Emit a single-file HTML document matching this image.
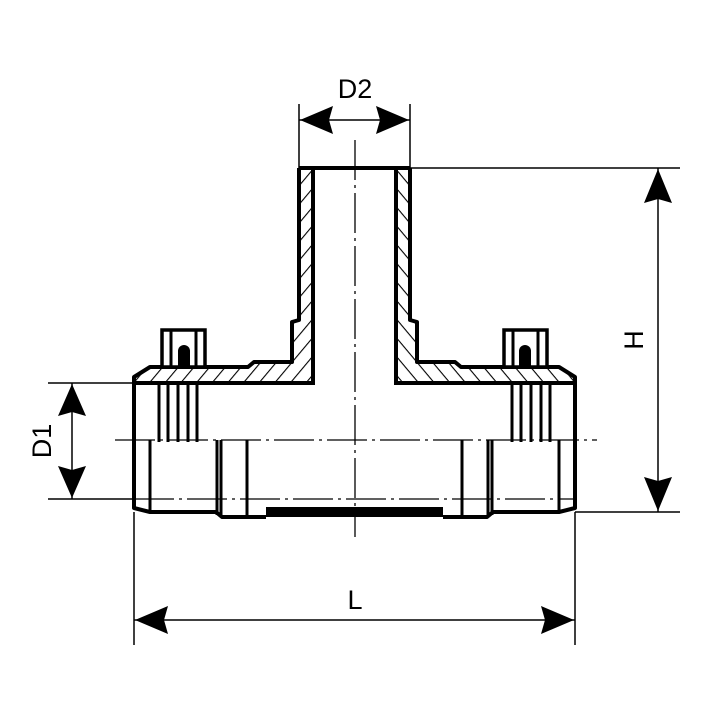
<!DOCTYPE html>
<html><head><meta charset="utf-8"><style>
html,body{margin:0;padding:0;background:#fff;}
svg{display:block}
text{font-family:"Liberation Sans",sans-serif;fill:#000}
</style></head><body>
<svg width="720" height="717" viewBox="0 0 720 717" xmlns="http://www.w3.org/2000/svg">
<defs>
<pattern id="h" patternUnits="userSpaceOnUse" width="12" height="12" patternTransform="rotate(40)">
<line x1="0" y1="0" x2="0" y2="12" stroke="#000" stroke-width="2.2"/>
</pattern>
<g id="half">
<path d="M299,168 L313,168 L313,383 L134,383 L134,377 L150,367 L248,367 L254,362 L292,362 L292,320 L299,320 Z" fill="url(#h)"/>
<path d="M299,168 L313,168 L313,383 L134,383" fill="none" stroke="#000" stroke-width="4"/>
<path d="M299,168 L299,320 L292,322 L292,362 L254,362 L248,367 L150,367 L134,377 L134,508 L150,512 L216,512 L222,517 L266,517" fill="none" stroke="#000" stroke-width="4" stroke-linejoin="round"/>
<rect x="162" y="330" width="43" height="37" fill="#fff" stroke="#000" stroke-width="3.5"/>
<line x1="171" y1="330" x2="171" y2="367" stroke="#000" stroke-width="3"/>
<line x1="196" y1="330" x2="196" y2="367" stroke="#000" stroke-width="3"/>
<path d="M178,367 L178,351 A6,6 0 0 1 190,351 L190,367 Z" fill="#000"/>
<g stroke="#000" stroke-width="3">
<line x1="159" y1="383" x2="159" y2="442"/>
<line x1="168" y1="383" x2="168" y2="442"/>
<line x1="178" y1="383" x2="178" y2="442"/>
<line x1="188" y1="383" x2="188" y2="442"/>
<line x1="197" y1="383" x2="197" y2="442"/>
<line x1="150" y1="440" x2="150" y2="512"/>
<line x1="217" y1="440" x2="217" y2="515"/>
<line x1="221" y1="440" x2="221" y2="517"/>
<line x1="247" y1="440" x2="247" y2="517"/>
</g>
<rect x="266" y="507" width="90" height="10" fill="#000"/>
</g>
</defs>
<use href="#half"/>
<use href="#half" transform="translate(709,0) scale(-1,1)"/>
<line x1="299" y1="168" x2="410" y2="168" stroke="#000" stroke-width="4"/>
<g stroke="#000" stroke-width="1.3" stroke-dasharray="40,5,3,5">
<line x1="355" y1="140" x2="355" y2="537"/>
<line x1="115" y1="440" x2="597" y2="440"/>
<line x1="134" y1="499" x2="575" y2="499"/>
</g>
<g stroke="#000" stroke-width="1.5" fill="none">
<line x1="299" y1="104" x2="299" y2="168"/>
<line x1="410" y1="104" x2="410" y2="168"/>
<line x1="299" y1="120" x2="410" y2="120"/>
<line x1="410" y1="168" x2="680" y2="168"/>
<line x1="575" y1="512" x2="680" y2="512"/>
<line x1="658" y1="168" x2="658" y2="512"/>
<line x1="48" y1="383" x2="134" y2="383"/>
<line x1="48" y1="499" x2="134" y2="499"/>
<line x1="72" y1="383" x2="72" y2="499"/>
<line x1="134" y1="512" x2="134" y2="645"/>
<line x1="575" y1="512" x2="575" y2="645"/>
<line x1="134" y1="620" x2="575" y2="620"/>
</g>
<g fill="#000">
<polygon points="300,120 333,106 329,120 333,134"/>
<polygon points="409,120 376,106 380,120 376,134"/>
<polygon points="658,169 644,203 658,199 672,203"/>
<polygon points="658,511 644,477 658,481 672,477"/>
<polygon points="72,384 58,416 72,412 86,416"/>
<polygon points="72,498 58,466 72,470 86,466"/>
<polygon points="135,620 168,606 164,620 168,634"/>
<polygon points="574,620 541,606 545,620 541,634"/>
</g>
<text x="355" y="98" font-size="27" text-anchor="middle">D2</text>
<text x="355" y="609" font-size="27" text-anchor="middle">L</text>
<text transform="translate(643,340) rotate(-90)" font-size="27" text-anchor="middle">H</text>
<text transform="translate(51,441) rotate(-90)" font-size="27" text-anchor="middle">D1</text>
</svg>
</body></html>
